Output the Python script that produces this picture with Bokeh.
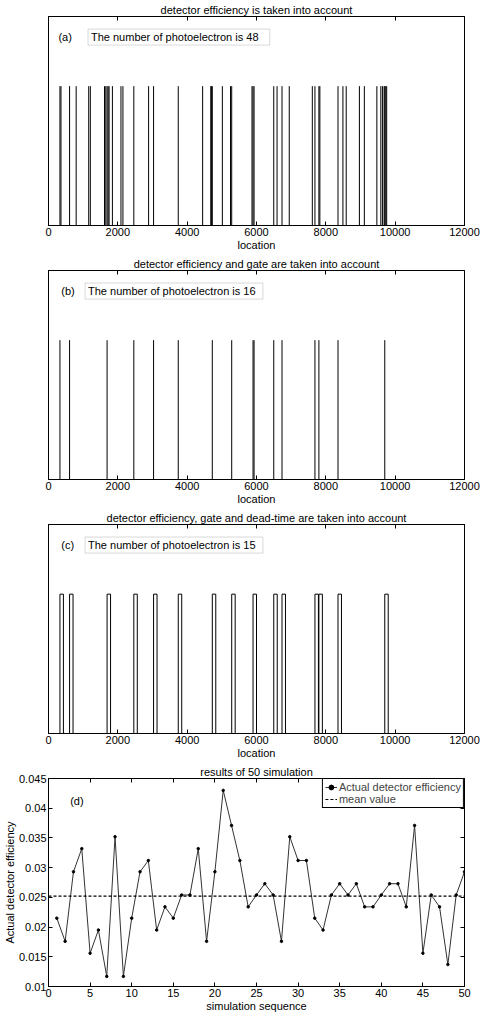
from bokeh.plotting import figure
from bokeh.layouts import column
from bokeh.models import (LinearAxis, FixedTicker, Label, BoxAnnotation, Range1d,
                          Legend, LegendItem)
from bokeh.embed import file_html
from bokeh.resources import INLINE

FONT = "Liberation Sans"

# ---------------- data: panels (a)-(c) ----------------
location_ticks = [0, 2000, 4000, 6000, 8000, 10000, 12000]
pulse_height = 1.0
dead_time = 100

eff_positions = [330, 360, 608, 798, 1160, 1207, 1615, 1653, 1690, 1720, 1748, 1843,
                 2090, 2147, 2461, 2888, 3031, 3743, 4446, 4680, 4705, 4725, 5015,
                 5250, 5285, 5870, 5900, 5930, 6498, 6593, 6736, 6945, 7610, 7686,
                 7800, 7828, 8351, 8493, 8588, 8968, 9111, 9472, 9586, 9633, 9681,
                 9700, 9728, 9755]
gate_positions = [330, 608, 1690, 2461, 3031, 3743, 4725, 5285, 5900, 5930, 6498,
                  6736, 7686, 7800, 8351, 9700]
dead_positions = [330, 608, 1690, 2461, 3031, 3743, 4725, 5285, 5900, 6498, 6736,
                  7686, 7800, 8351, 9700]

panel_titles = ["detector efficiency is taken into account",
                "detector efficiency and gate are taken into account",
                "detector efficiency, gate and dead-time are taken into account"]
panel_tags = ["(a)", "(b)", "(c)"]
photo_counts = [48, 16, 15]

# ---------------- data: panel (d) ----------------
sim_index = list(range(1, 51))
actual_eff = [0.0215, 0.0176, 0.0293, 0.0332, 0.0156, 0.0195, 0.0117, 0.0352, 0.0117, 0.0215,
              0.0293, 0.0312, 0.0195, 0.0234, 0.0215, 0.0254, 0.0254, 0.0332, 0.0176, 0.0293,
              0.0430, 0.0371, 0.0312, 0.0234, 0.0254, 0.0273, 0.0254, 0.0176, 0.0352, 0.0312,
              0.0312, 0.0215, 0.0195, 0.0254, 0.0273, 0.0254, 0.0273, 0.0234, 0.0234, 0.0254,
              0.0273, 0.0273, 0.0234, 0.0371, 0.0156, 0.0254, 0.0234, 0.0137, 0.0254, 0.0293]
mean_value = 0.0252
d_xticks = [0, 5, 10, 15, 20, 25, 30, 35, 40, 45, 50]
d_yticks = [0.01, 0.015, 0.02, 0.025, 0.03, 0.035, 0.04, 0.045]
d_ytick_labels = ["0.01", "0.015", "0.02", "0.025", "0.03", "0.035", "0.04", "0.045"]


def style_title(p, text):
    p.title.text = text
    p.title.align = "center"
    p.title.text_font = FONT
    p.title.text_font_size = "11px"
    p.title.text_font_style = "normal"
    p.title.text_color = "black"
    p.title.standoff = 2


def style_axis(ax, ticks, labels=True):
    ax.ticker = FixedTicker(ticks=ticks)
    ax.major_tick_in = 4
    ax.major_tick_out = 0
    ax.minor_tick_line_color = None
    ax.major_tick_line_color = "black"
    ax.axis_line_color = "black"
    ax.major_label_text_font = FONT
    if labels:
        ax.major_label_text_font_size = "11px"
        ax.major_label_text_color = "black"
        ax.major_label_standoff = 2
    else:
        # tick marks only (box ticks), no labels drawn
        ax.major_label_text_font_size = "1px"
        ax.major_label_text_color = None
        ax.major_label_text_alpha = 0
        ax.major_label_standoff = 0
    ax.axis_label_text_font = FONT
    ax.axis_label_text_font_size = "11px"
    ax.axis_label_text_font_style = "normal"
    ax.axis_label_text_color = "black"
    ax.axis_label_standoff = 0


def spike_panel(i, positions, kind):
    p = figure(width=480, height=254, x_range=Range1d(0, 12000), y_range=Range1d(0, 1.5),
               output_backend="svg", toolbar_location=None,
               min_border_left=44, min_border_right=15, min_border_top=16,
               min_border_bottom=29)
    style_title(p, panel_titles[i])
    p.grid.visible = False
    p.yaxis.visible = False
    p.outline_line_color = "black"
    p.outline_line_alpha = 1
    xa = p.xaxis[0]
    style_axis(xa, location_ticks)
    xa.axis_label = "location"
    top = LinearAxis()
    style_axis(top, location_ticks, labels=False)
    p.add_layout(top, "above")

    if kind == "spike":
        p.segment(x0=positions, y0=[0] * len(positions), x1=positions,
                  y1=[pulse_height] * len(positions), line_color="black", line_width=1)
    else:
        p.quad(left=positions, right=[v + dead_time for v in positions],
               bottom=[0] * len(positions), top=[pulse_height] * len(positions),
               fill_color=None, line_color="black", line_width=1)

    if i == 0:
        box_l, box_r, txt_x, tag_x = 1140, 6384, 1225, 285
    else:
        box_l, box_r, txt_x, tag_x = 1055, 6185, 1140, 370
    p.add_layout(BoxAnnotation(left=box_l, right=box_r, bottom=1.295, top=1.41,
                               fill_alpha=0, line_color="#808080", line_width=1))
    p.add_layout(Label(x=txt_x, y=1.352, text="The number of photoelectron is %d" % photo_counts[i],
                       text_font=FONT, text_font_size="11px", text_baseline="middle",
                       text_align="left", text_color="black"))
    p.add_layout(Label(x=tag_x, y=1.355, text=panel_tags[i], text_font=FONT,
                       text_font_size="11px", text_baseline="middle", text_align="left",
                       text_color="black"))
    return p


pa = spike_panel(0, eff_positions, "spike")
pb = spike_panel(1, gate_positions, "spike")
pc = spike_panel(2, dead_positions, "rect")

# ---------------- panel (d) ----------------
pd_ = figure(width=480, height=252, x_range=Range1d(0, 50), y_range=Range1d(0.01, 0.045),
             output_backend="svg", toolbar_location=None,
             min_border_left=44, min_border_right=16, min_border_top=16,
             min_border_bottom=28)
style_title(pd_, "results of 50 simulation")
pd_.grid.visible = False
pd_.outline_line_color = "black"
pd_.outline_line_alpha = 1
style_axis(pd_.xaxis[0], d_xticks)
pd_.xaxis[0].axis_label = "simulation sequence"
style_axis(pd_.yaxis[0], d_yticks)
pd_.yaxis[0].major_label_overrides = {t: s for t, s in zip(d_yticks, d_ytick_labels)}
pd_.yaxis[0].axis_label = "Actual detector efficiency"
top_d = LinearAxis()
style_axis(top_d, d_xticks, labels=False)
pd_.add_layout(top_d, "above")
right_d = LinearAxis()
style_axis(right_d, d_yticks, labels=False)
pd_.add_layout(right_d, "right")

ln = pd_.line(sim_index, actual_eff, line_color="#333333", line_width=1)
pts = pd_.scatter(sim_index, actual_eff, size=2.5, color="black")
x_lo, x_hi = pd_.x_range.start, pd_.x_range.end
mn = pd_.line([x_lo, x_hi], [mean_value, mean_value], line_color="black",
              line_width=1.2, line_dash="3 2")

legend = Legend(items=[LegendItem(label="Actual detector efficiency", renderers=[ln, pts]),
                       LegendItem(label="mean value", renderers=[mn])],
                location="top_right", margin=0, padding=2, spacing=0,
                label_height=12, glyph_height=12, glyph_width=12, label_standoff=2,
                label_text_font=FONT, label_text_font_size="11px",
                border_line_color="black", border_line_alpha=1,
                background_fill_color="white", background_fill_alpha=1)
pd_.add_layout(legend)
pd_.add_layout(Label(x=2.6, y=0.0412, text="(d)", text_font=FONT, text_font_size="11px",
                     text_baseline="middle", text_align="left", text_color="black"))

layout = column(pa, pb, pc, pd_, spacing=0)
open("out.html", "w").write(file_html(layout, INLINE))
